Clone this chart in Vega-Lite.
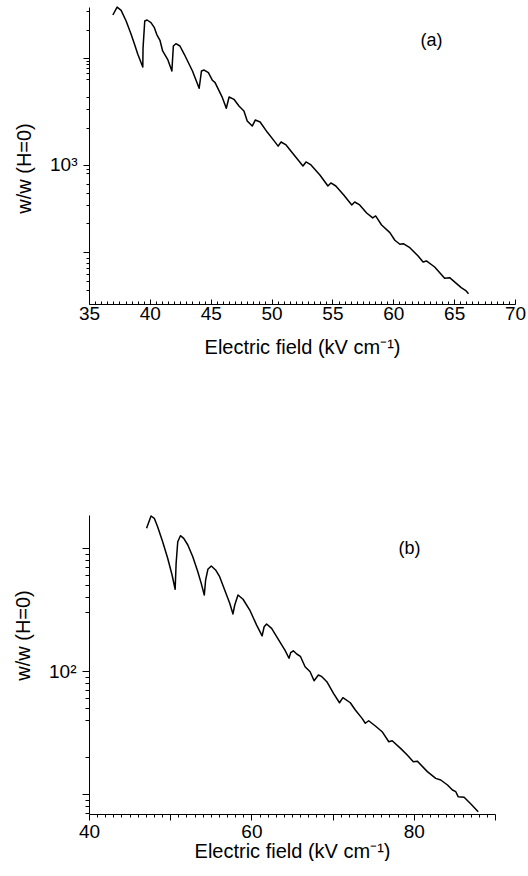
{
  "$schema": "https://vega.github.io/schema/vega-lite/v6.json",
  "padding": {"left": 13, "top": 6, "right": 0, "bottom": 0},
  "background": "white",
  "config": {
    "view": {"stroke": null},
    "font": "Liberation Sans",
    "axis": {
      "grid": false,
      "domainColor": "black",
      "domainWidth": 1,
      "tickColor": "black",
      "tickWidth": 1,
      "labelColor": "black",
      "titleColor": "black",
      "labelFont": "Liberation Sans",
      "titleFont": "Liberation Sans",
      "labelFontSize": 19,
      "titleFontSize": 20,
      "titleFontWeight": "normal",
      "labelOverlap": false,
      "labelFlush": false,
      "labelBound": false
    }
  },
  "datasets": {
    "a": [
      {"E": 36.96, "w": 25230}, {"E": 37.31, "w": 29900}, {"E": 37.64, "w": 27900}, {"E": 38.05, "w": 22170},
      {"E": 38.46, "w": 16650}, {"E": 38.74, "w": 13430}, {"E": 39.01, "w": 10830}, {"E": 39.29, "w": 8980},
      {"E": 39.42, "w": 8240}, {"E": 39.44, "w": 12400}, {"E": 39.58, "w": 22170}, {"E": 39.77, "w": 22650},
      {"E": 40.09, "w": 21380}, {"E": 40.37, "w": 19200}, {"E": 40.56, "w": 16650}, {"E": 40.83, "w": 14640},
      {"E": 41.05, "w": 11630}, {"E": 41.46, "w": 9720}, {"E": 41.81, "w": 7560}, {"E": 41.93, "w": 12950},
      {"E": 42.14, "w": 13600}, {"E": 42.47, "w": 12950}, {"E": 42.83, "w": 10830}, {"E": 43.10, "w": 9380},
      {"E": 43.50, "w": 7560}, {"E": 44.05, "w": 5210}, {"E": 44.24, "w": 7560}, {"E": 44.46, "w": 7720},
      {"E": 44.81, "w": 7290}, {"E": 45.14, "w": 6190}, {"E": 45.36, "w": 5880}, {"E": 45.69, "w": 4920},
      {"E": 45.96, "w": 4260}, {"E": 46.28, "w": 3390}, {"E": 46.51, "w": 4320}, {"E": 46.91, "w": 4110},
      {"E": 47.32, "w": 3560}, {"E": 47.73, "w": 3200}, {"E": 48.00, "w": 2580}, {"E": 48.41, "w": 2310},
      {"E": 48.66, "w": 2630}, {"E": 49.06, "w": 2520}, {"E": 49.64, "w": 2030}, {"E": 50.21, "w": 1680},
      {"E": 50.54, "w": 1500}, {"E": 50.78, "w": 1640}, {"E": 51.19, "w": 1540}, {"E": 51.85, "w": 1240},
      {"E": 52.58, "w": 979}, {"E": 52.83, "w": 1067}, {"E": 53.24, "w": 1000}, {"E": 53.97, "w": 806},
      {"E": 54.63, "w": 636}, {"E": 54.87, "w": 679}, {"E": 55.28, "w": 636}, {"E": 55.93, "w": 524},
      {"E": 56.59, "w": 423}, {"E": 56.83, "w": 451}, {"E": 57.24, "w": 423}, {"E": 57.81, "w": 356},
      {"E": 58.31, "w": 320}, {"E": 58.55, "w": 334}, {"E": 59.04, "w": 275}, {"E": 59.72, "w": 233},
      {"E": 60.13, "w": 198}, {"E": 60.54, "w": 181.5}, {"E": 60.82, "w": 184}, {"E": 61.36, "w": 168.7},
      {"E": 62.04, "w": 141}, {"E": 62.45, "w": 124}, {"E": 62.72, "w": 126.7}, {"E": 63.40, "w": 111.3},
      {"E": 64.22, "w": 87.3}, {"E": 64.63, "w": 88.5}, {"E": 65.58, "w": 71.4}, {"E": 65.99, "w": 66.5},
      {"E": 66.18, "w": 62.7}
    ],
    "b": [
      {"E": 47.09, "w": 1446}, {"E": 47.64, "w": 1821}, {"E": 48.04, "w": 1744}, {"E": 48.45, "w": 1490},
      {"E": 49.07, "w": 1125}, {"E": 49.69, "w": 825}, {"E": 50.23, "w": 603}, {"E": 50.61, "w": 462},
      {"E": 50.73, "w": 751}, {"E": 50.93, "w": 1125}, {"E": 51.26, "w": 1259}, {"E": 51.67, "w": 1199},
      {"E": 52.17, "w": 1058}, {"E": 52.78, "w": 850}, {"E": 53.40, "w": 642}, {"E": 53.82, "w": 516},
      {"E": 54.20, "w": 415}, {"E": 54.36, "w": 549}, {"E": 54.64, "w": 671}, {"E": 55.06, "w": 714},
      {"E": 55.59, "w": 663}, {"E": 56.09, "w": 584}, {"E": 56.71, "w": 456}, {"E": 57.33, "w": 355},
      {"E": 57.73, "w": 291}, {"E": 57.95, "w": 344}, {"E": 58.35, "w": 415}, {"E": 58.97, "w": 383},
      {"E": 59.80, "w": 313}, {"E": 60.63, "w": 237}, {"E": 61.32, "w": 193}, {"E": 61.57, "w": 229},
      {"E": 61.87, "w": 241}, {"E": 62.49, "w": 222}, {"E": 63.11, "w": 190}, {"E": 63.73, "w": 163},
      {"E": 64.13, "w": 148}, {"E": 64.63, "w": 127}, {"E": 64.84, "w": 141}, {"E": 65.16, "w": 146},
      {"E": 65.58, "w": 137.5}, {"E": 66.03, "w": 131.7}, {"E": 66.61, "w": 108.4}, {"E": 67.23, "w": 98.7},
      {"E": 67.72, "w": 83.4}, {"E": 68.25, "w": 92.8}, {"E": 68.68, "w": 89.9}, {"E": 69.29, "w": 81.9},
      {"E": 70.11, "w": 65.9}, {"E": 70.85, "w": 55.2}, {"E": 71.27, "w": 60.7}, {"E": 72.18, "w": 55.2},
      {"E": 72.80, "w": 48.2}, {"E": 73.63, "w": 41.2}, {"E": 74.03, "w": 37.6}, {"E": 74.44, "w": 39.4},
      {"E": 75.27, "w": 35.7}, {"E": 76.10, "w": 32.1}, {"E": 76.92, "w": 26.6}, {"E": 77.34, "w": 27.1},
      {"E": 78.37, "w": 23.5}, {"E": 79.19, "w": 20.75}, {"E": 79.94, "w": 18.3}, {"E": 80.43, "w": 18.5},
      {"E": 81.67, "w": 15.2}, {"E": 82.70, "w": 13.4}, {"E": 83.32, "w": 13.0}, {"E": 84.15, "w": 11.83},
      {"E": 84.76, "w": 10.78}, {"E": 85.17, "w": 10.44}, {"E": 85.46, "w": 9.51}, {"E": 86.20, "w": 9.40},
      {"E": 87.03, "w": 8.29}, {"E": 87.93, "w": 7.18}
    ],
    "labA": [{"E": 63.13, "w": 14413, "t": "(a)"}],
    "labB": [{"E": 79.48, "w": 981, "t": "(b)"}]
  },
  "columns": 1,
  "align": "none",
  "spacing": 158,
  "concat": [
    {
      "width": 426,
      "height": 297,
      "resolve": {"axis": {"x": "independent", "y": "independent"}},
      "layer": [
        {
          "data": {"name": "a"},
          "mark": {"type": "line", "color": "black", "strokeWidth": 1.5, "strokeJoin": "round"},
          "encoding": {
            "x": {
              "field": "E", "type": "quantitative",
              "scale": {"domain": [35, 70], "nice": false, "zero": false},
              "axis": {
                "orient": "bottom",
                "title": "Electric field (kV cm⁻¹)",
                "values": [35, 40, 45, 50, 55, 60, 65, 70],
                "tickSize": -5,
                "labelPadding": 5,
                "titlePadding": 14
              }
            },
            "y": {
              "field": "w", "type": "quantitative",
              "scale": {"type": "log", "domain": [50.2, 29960], "nice": false},
              "axis": {
                "orient": "left",
                "title": "w/w (H=0)",
                "titleY": 161,
                "values": [10000, 1000, 153.8],
                "labelExpr": "datum.value === 1000 ? '10³' : ''",
                "tickSize": 6,
                "labelPadding": 6,
                "titlePadding": 15
              }
            }
          }
        },
        {
          "data": {"name": "labA"},
          "mark": {"type": "text", "fontSize": 18, "font": "Liberation Sans", "color": "black"},
          "encoding": {
            "x": {
              "field": "E", "type": "quantitative",
              "scale": {"domain": [35, 70], "nice": false, "zero": false},
              "axis": {
                "orient": "bottom",
                "title": null,
                "domain": false,
                "labels": false,
                "values": [35.5,36,36.5,37,37.5,38,38.5,39,39.5,40.5,41,41.5,42,42.5,43,43.5,44,44.5,45.5,46,46.5,47,47.5,48,48.5,49,49.5,50.5,51,51.5,52,52.5,53,53.5,54,54.5,55.5,56,56.5,57,57.5,58,58.5,59,59.5,60.5,61,61.5,62,62.5,63,63.5,64,64.5,65.5,66,66.5,67,67.5,68,68.5,69,69.5],
                "tickSize": -3
              }
            },
            "y": {
              "field": "w", "type": "quantitative",
              "scale": {"type": "log", "domain": [50.2, 29960], "nice": false},
              "axis": {
                "orient": "left",
                "title": null,
                "domain": false,
                "labels": false,
                "values": [27500,18270,9376,8788,8063,7241,6364,4320,3337,2217,917.6,841.9,664.5,547.4,422.8,287.0,135.1,121.4,109.0,95.79,82.37,67.88],
                "tickSize": 3
              }
            },
            "text": {"field": "t"}
          }
        }
      ]
    },
    {
      "width": 406,
      "height": 299,
      "resolve": {"axis": {"x": "independent", "y": "independent"}},
      "layer": [
        {
          "data": {"name": "b"},
          "mark": {"type": "line", "color": "black", "strokeWidth": 1.5, "strokeJoin": "round"},
          "encoding": {
            "x": {
              "field": "E", "type": "quantitative",
              "scale": {"domain": [40, 90], "nice": false, "zero": false},
              "axis": {
                "orient": "bottom",
                "title": "Electric field (kV cm⁻¹)",
                "values": [40, 50, 60, 70, 80, 90],
                "labelExpr": "datum.value % 20 === 0 ? datum.label : ''",
                "tickSize": 6,
                "labelPadding": 2,
                "titlePadding": 0
              }
            },
            "y": {
              "field": "w", "type": "quantitative",
              "scale": {"type": "log", "domain": [6.877, 1855], "nice": false},
              "axis": {
                "orient": "left",
                "title": "w/w (H=0)",
                "titleY": 120,
                "values": [10, 100, 1000],
                "labelExpr": "datum.value === 100 ? '10²' : ''",
                "tickSize": 7,
                "labelPadding": 6,
                "titlePadding": 15
              }
            }
          }
        },
        {
          "data": {"name": "labB"},
          "mark": {"type": "text", "fontSize": 18, "font": "Liberation Sans", "color": "black"},
          "encoding": {
            "x": {
              "field": "E", "type": "quantitative",
              "scale": {"domain": [40, 90], "nice": false, "zero": false},
              "axis": {
                "orient": "bottom",
                "title": null,
                "domain": false,
                "labels": false,
                "values": [41,42,43,44,45,46,47,48,49,51,52,53,54,55,56,57,58,59,61,62,63,64,65,66,67,68,69,71,72,73,74,75,76,77,78,79,81,82,83,84,85,86,87,88,89],
                "tickSize": 3
              }
            },
            "y": {
              "field": "w", "type": "quantitative",
              "scale": {"type": "log", "domain": [6.877, 1855], "nice": false},
              "axis": {
                "orient": "left",
                "title": null,
                "domain": false,
                "labels": false,
                "values": [7, 8, 9, 20, 40, 50, 60, 70, 80, 90, 300, 400, 500, 600, 700, 800, 900],
                "tickSize": 4
              }
            },
            "text": {"field": "t"}
          }
        }
      ]
    }
  ]
}
